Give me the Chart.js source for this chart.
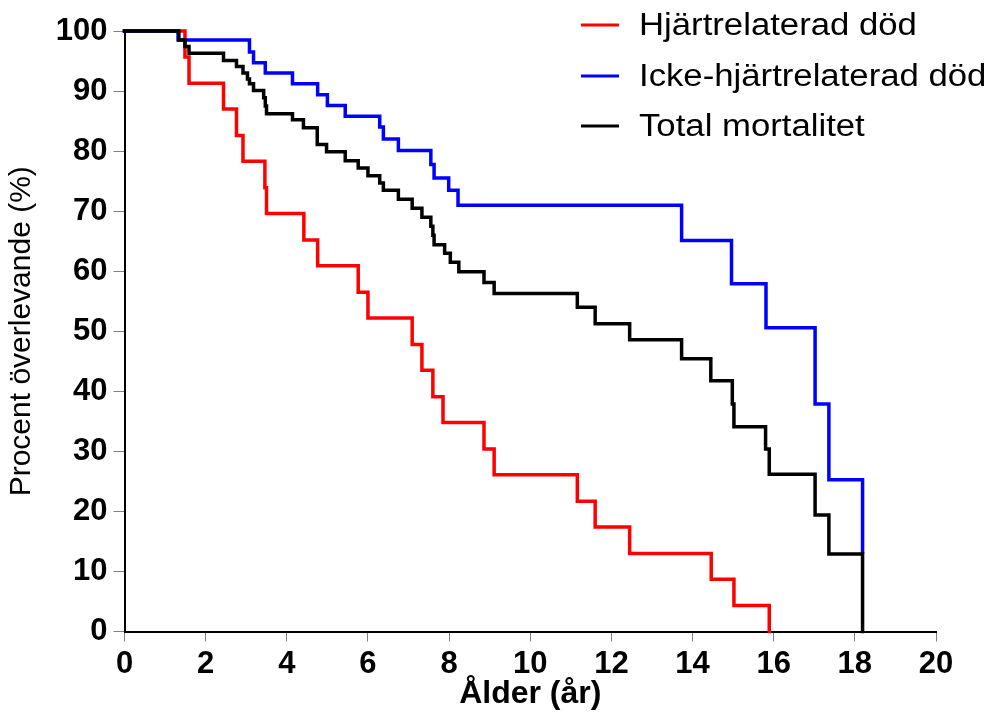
<!DOCTYPE html>
<html>
<head>
<meta charset="utf-8">
<script src="https://cdn.jsdelivr.net/npm/chart.js@4.4.1/dist/chart.umd.min.js"></script>
<style>
  html, body { margin: 0; padding: 0; background: #fff; }
  #wrap { width: 993px; height: 713px; }
</style>
</head>
<body>
<div id="wrap"><canvas id="c" width="993" height="713"></canvas></div>
<script>
// ---- Data ----
const seriesNames = ["Hjärtrelaterad död", "Icke-hjärtrelaterad död", "Total mortalitet"];
const seriesColors = ["#ff0000", "#0000ff", "#000000"];

const redX = [0, 1.49, 1.59, 2.44, 2.76, 2.92, 3.46, 3.50, 4.42, 4.76, 5.76, 6.00, 7.09, 7.33, 7.60, 7.85, 8.86, 9.11, 11.16, 11.60, 12.45, 14.46, 15.02, 15.89];
const redY = [100, 95.65, 91.3, 87.0, 82.6, 78.3, 73.9, 69.6, 65.2, 60.9, 56.5, 52.2, 47.8, 43.5, 39.1, 34.8, 30.4, 26.1, 21.7, 17.4, 13.0, 8.7, 4.35, 0];

const blueX = [0, 1.32, 3.08, 3.18, 3.47, 4.14, 4.76, 5.00, 5.44, 6.29, 6.38, 6.75, 7.55, 7.63, 7.99, 8.22, 13.73, 14.96, 15.81, 17.02, 17.36, 18.19];
const blueY = [100, 98.5, 96.5, 94.7, 93.0, 91.2, 89.4, 87.6, 85.8, 84.0, 82.0, 80.1, 77.75, 75.5, 73.5, 71.0, 65.1, 57.9, 50.6, 37.9, 25.25, 13.2];

const totalX = [0, 1.34, 1.49, 1.59, 2.44, 2.76, 2.92, 3.03, 3.08, 3.18, 3.43, 3.47, 3.50, 4.14, 4.41, 4.75, 4.98, 5.44, 5.76, 6.00, 6.29, 6.38, 6.75, 7.09, 7.33, 7.55, 7.60, 7.63, 7.89, 8.03, 8.24, 8.86, 9.11, 11.16, 11.60, 12.45, 13.73, 14.45, 14.98, 15.02, 15.80, 15.89, 17.02, 17.36, 18.19];
const totalY = [100, 98.5, 97.4, 96.3, 95.1, 94.1, 93.0, 92.0, 91.2, 90.1, 88.9, 87.5, 86.2, 85.2, 83.9, 81.1, 79.9, 78.4, 77.2, 75.9, 74.7, 73.5, 72.0, 70.5, 69.0, 67.5, 66.0, 64.4, 63.0, 61.5, 59.9, 58.1, 56.3, 54.0, 51.25, 48.6, 45.4, 41.75, 37.9, 34.1, 30.4, 26.2, 19.4, 12.9, 0];

const xTicks = [0, 2, 4, 6, 8, 10, 12, 14, 16, 18, 20];
const yTicks = [0, 10, 20, 30, 40, 50, 60, 70, 80, 90, 100];

const xTitle = "Ålder (år)";
const yTitle = "Procent överlevande (%)";

// ---- Build ----
function pts(xs, ys) { return xs.map((x, i) => ({ x: x, y: ys[i] })); }

const FONT = "'Liberation Sans', Arial, Helvetica, sans-serif";

const legendPlugin = {
  id: 'customLegend',
  afterDraw(chart) {
    const ctx = chart.ctx;
    ctx.save();
    const rows = [25, 76, 126];
    chart.data.datasets.forEach((ds, i) => {
      const y = rows[i];
      ctx.strokeStyle = ds.borderColor;
      ctx.lineWidth = 3;
      ctx.beginPath();
      ctx.moveTo(581, y);
      ctx.lineTo(619, y);
      ctx.stroke();
      ctx.save();
      ctx.translate(639, y + 1);
      ctx.scale(1.12, 1);
      ctx.fillStyle = '#000';
      ctx.font = "31px " + FONT;
      ctx.textBaseline = 'middle';
      ctx.textAlign = 'left';
      ctx.fillText(ds.label, 0, 0);
      ctx.restore();
    });
    ctx.restore();
  }
};

const ctx = document.getElementById('c').getContext('2d');
new Chart(ctx, {
  type: 'line',
  data: {
    datasets: [
      { label: seriesNames[0], data: pts(redX, redY), borderColor: seriesColors[0], order: 3 },
      { label: seriesNames[1], data: pts(blueX, blueY), borderColor: seriesColors[1], order: 2 },
      { label: seriesNames[2], data: pts(totalX, totalY), borderColor: seriesColors[2], order: 1 }
    ].map(d => Object.assign(d, {
      stepped: 'before', borderWidth: 3.5, pointRadius: 0, pointHoverRadius: 0,
      fill: false, tension: 0, borderCapStyle: 'square', borderJoinStyle: 'miter', clip: 4
    }))
  },
  options: {
    responsive: false,
    animation: false,
    events: [],
    layout: { padding: { left: 0, top: 31, right: 57, bottom: 0 } },
    plugins: { legend: { display: false }, tooltip: { enabled: false } },
    scales: {
      x: {
        type: 'linear', min: 0, max: 20,
        afterBuildTicks: (s) => { s.ticks = xTicks.map(v => ({ value: v })); },
        afterFit: (s) => { s.height = 81.5; },
        ticks: { color: '#000', font: { family: FONT, size: 31, weight: 'bold' }, padding: 4, maxRotation: 0, autoSkip: false },
        grid: { display: true, drawOnChartArea: false, drawTicks: true, tickLength: 10, color: '#808080', lineWidth: 1 },
        border: { display: true, color: '#000', width: 2 },
        title: { display: true, text: xTitle, color: '#000', font: { family: FONT, size: 32, weight: 'bold' }, padding: { top: 0, bottom: 0 } }
      },
      y: {
        type: 'linear', min: 0, max: 100,
        afterBuildTicks: (s) => { s.ticks = yTicks.map(v => ({ value: v })); },
        afterFit: (s) => { s.width = 124.5; },
        ticks: { color: '#000', font: { family: FONT, size: 31, weight: 'bold' }, padding: 6, autoSkip: false },
        grid: { display: true, drawOnChartArea: false, drawTicks: true, tickLength: 11, color: '#808080', lineWidth: 1 },
        border: { display: true, color: '#000', width: 2 },
        title: { display: true, text: yTitle, color: '#000', font: { family: FONT, size: 30, weight: 'normal' }, padding: { top: 4, bottom: 0 } }
      }
    }
  },
  plugins: [legendPlugin]
});
</script>
</body>
</html>
